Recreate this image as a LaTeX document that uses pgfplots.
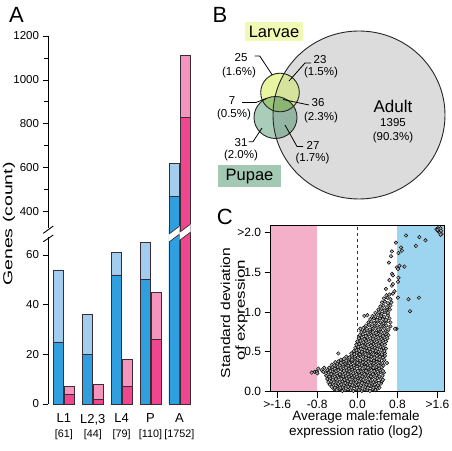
\documentclass[border=0pt]{standalone}
\usepackage{pgfplots}
\pgfplotsset{compat=1.18}
\usepackage{fontspec}
\setmainfont{Liberation Sans}
\definecolor{dblue}{HTML}{2F9FE0}
\definecolor{lblue}{HTML}{A2CDEE}
\definecolor{dpink}{HTML}{F0468E}
\definecolor{lpink}{HTML}{F594BC}
\definecolor{barline}{HTML}{3A2C35}
\definecolor{bandpink}{HTML}{F5B0C9}
\definecolor{bandblue}{HTML}{9DD4EF}
\definecolor{adultg}{HTML}{DCDCDC}
\definecolor{larv}{HTML}{E9F5A0}
\definecolor{larvA}{HTML}{D6E39C}
\definecolor{pup}{HTML}{AACDB9}
\definecolor{pupA}{HTML}{93B5A2}
\definecolor{lp}{HTML}{9CC679}
\definecolor{lpA}{HTML}{8AB572}
\definecolor{larvbox}{HTML}{F0FAB4}
\definecolor{pupbox}{HTML}{A3C9B5}
\newcommand{\fs}[1]{\fontsize{#1}{#1}\selectfont}
\begin{document}
\begin{tikzpicture}[x=1pt,y=1pt]
\useasboundingbox (0,0) rectangle (452,450);
\pgfplotsset{
  barA/.style={ybar, bar width=10pt, bar shift=0pt, draw=barline, line width=0.7pt},
  panelA/.style={scale only axis, anchor=south west, width=146.8pt, xmin=-0.55, xmax=4.53,
    axis lines*=left, axis line style={draw=none}, tick align=outside, ytick pos=left,
    major tick length=5.5pt, minor tick length=4pt, tick style={black, line width=0.8pt},
    yticklabel style={font=\fs{11.5}}, /pgf/number format/assume math mode=true,
    /pgf/number format/1000 sep={}},
}
% ---------------- Panel A (upper part)
\begin{axis}[panelA, at={(48pt,216.4pt)}, height=197.6pt, ymin=300, ymax=1200,
  ytick={400,600,800,1000,1200}, minor ytick={500,700,900,1100}, xtick=\empty]
\addplot[barA, fill=lblue] coordinates {(3.81,620)};
\addplot[barA, fill=dblue] coordinates {(3.81,470)};
\addplot[barA, fill=lpink] coordinates {(4.19,1110)};
\addplot[barA, fill=dpink] coordinates {(4.19,830)};
\end{axis}
% ---------------- Panel A (lower part)
\begin{axis}[panelA, at={(48pt,46pt)}, height=176.3pt, ymin=0, ymax=71,
  ytick={0,20,40,60}, xtick={0,1,2,3,4}, xtick style={draw=none},
  xticklabels={{L1\\{\fs{10.8}[61]}},{L2,3\\{\fs{10.8}[44]}},{L4\\{\fs{10.8}[79]}},{P\\{\fs{10.8}[110]}},{A\\{\fs{10.8}[1752]}}},
  xticklabel style={align=center, font=\fontsize{13}{14.5}\selectfont, yshift=-1pt, inner xsep=0pt}]
\addplot[barA, fill=lblue] coordinates {(-0.19,54) (0.81,36) (1.81,61) (2.81,65) (3.81,620)};
\addplot[barA, fill=dblue] coordinates {(-0.19,25) (0.81,20) (1.81,52) (2.81,50) (3.81,470)};
\addplot[barA, fill=lpink] coordinates {(0.19,7) (1.19,8) (2.19,18) (3.19,45) (4.19,1110)};
\addplot[barA, fill=dpink] coordinates {(0.19,4) (1.19,2) (2.19,7) (3.19,26) (4.19,830)};
\end{axis}
% axis line with break
\draw[black, line width=0.9pt] (48,414) -- (48,222);
\draw[black, line width=0.9pt] (48,213) -- (48,46);
\draw[black, line width=0.9pt] (43.3,216.7) -- (53.3,224);
\draw[black, line width=0.9pt] (43.3,208.3) -- (53.3,215);
% slanted gaps in the A bars
\fill[white] (168.5,215.6) -- (179.5,223.9) -- (179.5,215.9) -- (168.5,207.6) -- cycle;
\draw[barline, line width=0.7pt] (169,216) -- (179,223.5);
\draw[barline, line width=0.7pt] (169,208) -- (179,215.5);
\fill[white] (179.5,217.6) -- (190.5,225.9) -- (190.5,217.9) -- (179.5,209.6) -- cycle;
\draw[barline, line width=0.7pt] (180,218) -- (190,225.5);
\draw[barline, line width=0.7pt] (180,210) -- (190,217.5);
\node[rotate=90, font=\fs{13}] at (9,226) {\scalebox{1.5}[1]{Genes (count)}};
\node[font=\fs{22}] at (16.5,435.5) {A};
% ---------------- Panel C
\begin{axis}[at={(270.7pt,58.3pt)}, anchor=south west, scale only axis, width=173.3pt, height=166pt,
  xmin=-1.73, xmax=1.73, ymin=0, ymax=2.083, axis on top, tick align=outside,
  xtick={-1.6,-0.8,0,0.8,1.6}, xticklabels={{>-1.6},{-0.8},{0.0},{0.8},{>1.6}},
  ytick={0,0.5,1,1.5,2}, yticklabels={0.0,0.5,1.0,1.5,{>2.0}},
  xtick pos=bottom, ytick pos=left, major tick length=6pt,
  tick style={black, line width=0.8pt}, axis line style={black, line width=0.9pt},
  ticklabel style={font=\fs{12}}, xticklabel style={yshift=1pt}]
\addplot[fill=bandpink, draw=none] coordinates {(-1.73,2.083) (-0.8,2.083)} \closedcycle;
\addplot[fill=bandblue, draw=none] coordinates {(0.8,2.083) (1.73,2.083)} \closedcycle;
\addplot[black!80, dashed, line width=0.6pt] coordinates {(0,0) (0,2.083)};
\addplot[only marks, mark=*, mark size=1.8pt, mark options={draw=black, fill=white!70!black, line width=0.45pt}] coordinates {
(-0.46,0.03) (-0.41,0.02) (-0.35,0.03) (-0.30,0.01) (-0.24,0.02) (-0.19,0.03) (-0.13,0.02) (-0.08,0.01) (-0.02,0.03) (0.03,0.02) (0.09,0.01) (0.14,0.03) (0.20,0.02) (0.25,0.01) (0.31,0.03) (0.36,0.02) (0.40,0.04)
(-0.51,0.06) (-0.45,0.05) (-0.40,0.07) (-0.34,0.05) (-0.29,0.06) (-0.23,0.04) (-0.18,0.06) (-0.12,0.05) (-0.07,0.07) (-0.01,0.05) (0.05,0.06) (0.10,0.04) (0.16,0.06) (0.21,0.05) (0.27,0.07) (0.32,0.05) (0.38,0.06) (0.44,0.05)
(-0.55,0.09) (-0.49,0.10) (-0.43,0.08) (-0.38,0.10) (-0.32,0.09) (-0.27,0.08) (-0.21,0.10) (-0.15,0.09) (-0.10,0.08) (-0.04,0.10) (0.02,0.09) (0.07,0.08) (0.13,0.10) (0.18,0.09) (0.24,0.08) (0.30,0.10) (0.35,0.09) (0.41,0.08) (0.47,0.10)
(-0.58,0.12) (-0.52,0.13) (-0.47,0.12) (-0.41,0.14) (-0.35,0.12) (-0.30,0.13) (-0.24,0.11) (-0.19,0.13) (-0.13,0.12) (-0.07,0.14) (-0.02,0.12) (0.04,0.13) (0.09,0.11) (0.15,0.13) (0.21,0.12) (0.26,0.14) (0.32,0.12) (0.37,0.13) (0.43,0.11) (0.49,0.13)
(-0.60,0.16) (-0.54,0.17) (-0.49,0.15) (-0.43,0.16) (-0.38,0.18) (-0.32,0.16) (-0.26,0.15) (-0.21,0.17) (-0.15,0.16) (-0.10,0.18) (-0.04,0.15) (0.01,0.17) (0.07,0.16) (0.12,0.15) (0.18,0.17) (0.24,0.16) (0.29,0.18) (0.35,0.15) (0.40,0.17) (0.46,0.16) (0.51,0.15)
(-0.62,0.20) (-0.56,0.19) (-0.51,0.21) (-0.45,0.19) (-0.40,0.20) (-0.34,0.21) (-0.28,0.19) (-0.23,0.20) (-0.17,0.19) (-0.12,0.21) (-0.06,0.20) (-0.01,0.19) (0.05,0.21) (0.10,0.19) (0.16,0.20) (0.22,0.21) (0.27,0.19) (0.33,0.20) (0.38,0.21) (0.44,0.19) (0.50,0.20)
(-0.63,0.23) (-0.57,0.24) (-0.52,0.22) (-0.46,0.24) (-0.41,0.23) (-0.35,0.22) (-0.30,0.24) (-0.24,0.23) (-0.19,0.22) (-0.13,0.24) (-0.08,0.23) (-0.02,0.22) (0.03,0.24) (0.09,0.23) (0.14,0.22) (0.20,0.24) (0.25,0.23) (0.31,0.22) (0.36,0.24) (0.42,0.23) (0.47,0.25) (0.53,0.24)
(-0.60,0.27) (-0.54,0.26) (-0.49,0.28) (-0.43,0.26) (-0.38,0.27) (-0.32,0.28) (-0.27,0.26) (-0.21,0.27) (-0.16,0.26) (-0.10,0.28) (-0.05,0.27) (0.01,0.26) (0.06,0.28) (0.12,0.27) (0.17,0.26) (0.23,0.28) (0.28,0.27) (0.34,0.26) (0.39,0.28) (0.45,0.27) (0.51,0.26)
(-0.56,0.30) (-0.50,0.31) (-0.45,0.29) (-0.39,0.31) (-0.34,0.30) (-0.28,0.32) (-0.23,0.30) (-0.17,0.29) (-0.12,0.31) (-0.06,0.30) (-0.01,0.32) (0.05,0.30) (0.10,0.29) (0.16,0.31) (0.21,0.30) (0.27,0.32) (0.32,0.30) (0.38,0.31) (0.43,0.29) (0.49,0.31)
(-0.51,0.34) (-0.46,0.33) (-0.40,0.35) (-0.35,0.33) (-0.29,0.34) (-0.24,0.35) (-0.18,0.33) (-0.13,0.34) (-0.07,0.33) (-0.02,0.35) (0.04,0.34) (0.09,0.33) (0.15,0.35) (0.20,0.34) (0.26,0.33) (0.31,0.35) (0.37,0.34) (0.42,0.33) (0.48,0.35) (0.52,0.33)
(-0.44,0.37) (-0.38,0.38) (-0.33,0.36) (-0.27,0.38) (-0.22,0.37) (-0.16,0.36) (-0.11,0.38) (-0.05,0.37) (0.00,0.36) (0.06,0.38) (0.11,0.37) (0.17,0.36) (0.22,0.38) (0.28,0.37) (0.33,0.36) (0.39,0.38) (0.44,0.37) (0.50,0.36) (0.59,0.36)
(-0.33,0.40) (-0.27,0.41) (-0.22,0.39) (-0.16,0.41) (-0.11,0.40) (-0.05,0.42) (0.00,0.40) (0.06,0.39) (0.11,0.41) (0.17,0.40) (0.22,0.42) (0.28,0.40) (0.33,0.39) (0.39,0.41) (0.44,0.40) (0.50,0.42) (0.54,0.40)
(-0.22,0.44) (-0.16,0.43) (-0.11,0.45) (-0.05,0.44) (0.01,0.43) (0.06,0.45) (0.12,0.44) (0.17,0.43) (0.23,0.45) (0.28,0.44) (0.34,0.43) (0.39,0.45) (0.45,0.44) (0.51,0.43) (0.55,0.45)
(-0.12,0.48) (-0.06,0.47) (-0.01,0.49) (0.05,0.47) (0.10,0.48) (0.16,0.47) (0.21,0.49) (0.27,0.48) (0.32,0.47) (0.38,0.49) (0.43,0.48) (0.49,0.47) (0.55,0.48) (-0.38,0.48)
(-0.07,0.51) (-0.02,0.52) (0.04,0.51) (0.09,0.50) (0.15,0.52) (0.20,0.51) (0.26,0.50) (0.31,0.52) (0.37,0.51) (0.42,0.50) (0.48,0.52) (0.54,0.51)
(-0.04,0.55) (0.02,0.56) (0.07,0.54) (0.13,0.56) (0.18,0.55) (0.24,0.54) (0.29,0.56) (0.35,0.55) (0.40,0.54) (0.46,0.56) (0.52,0.55) (0.57,0.54)
(-0.02,0.59) (0.04,0.60) (0.10,0.58) (0.16,0.60) (0.21,0.59) (0.27,0.58) (0.32,0.60) (0.38,0.59) (0.43,0.58) (0.49,0.60) (0.55,0.59)
(0.00,0.63) (0.06,0.64) (0.12,0.62) (0.17,0.64) (0.23,0.63) (0.28,0.62) (0.34,0.64) (0.39,0.63) (0.45,0.62) (0.51,0.64) (0.57,0.63)
(0.03,0.67) (0.09,0.68) (0.14,0.66) (0.20,0.68) (0.26,0.67) (0.31,0.66) (0.37,0.68) (0.42,0.67) (0.48,0.66) (0.54,0.68) (0.60,0.67)
(0.05,0.71) (0.11,0.72) (0.17,0.70) (0.22,0.72) (0.28,0.71) (0.34,0.70) (0.39,0.72) (0.45,0.71) (0.51,0.70) (0.57,0.72) (0.62,0.71)
(0.08,0.75) (0.14,0.76) (0.20,0.74) (0.26,0.76) (0.31,0.75) (0.37,0.74) (0.43,0.76) (0.48,0.75) (0.54,0.74) (0.60,0.76)
(0.06,0.79) (0.12,0.80) (0.19,0.79) (0.25,0.78) (0.31,0.80) (0.36,0.79) (0.42,0.78) (0.48,0.80) (0.54,0.79) (0.62,0.78) (0.78,0.79)
(0.17,0.83) (0.23,0.84) (0.29,0.82) (0.35,0.84) (0.40,0.83) (0.46,0.82) (0.52,0.84) (0.58,0.83) (0.66,0.82)
(0.22,0.87) (0.28,0.88) (0.34,0.86) (0.40,0.88) (0.46,0.87) (0.52,0.86) (0.58,0.88) (0.66,0.87)
(0.26,0.91) (0.33,0.92) (0.39,0.90) (0.45,0.92) (0.51,0.91) (0.57,0.90) (0.64,0.92)
(0.14,0.95) (0.20,0.96) (0.30,0.95) (0.36,0.94) (0.42,0.96) (0.48,0.95) (0.54,0.94) (0.61,0.96)
(0.36,0.99) (0.43,1.00) (0.49,0.98) (0.55,1.00) (0.61,0.99)
(0.42,1.03) (0.48,1.04) (0.54,1.02) (0.60,1.04) (0.65,1.03)
(0.46,1.07) (0.52,1.08) (0.59,1.06) (0.66,1.08)
(0.49,1.12) (0.55,1.13) (0.61,1.11) (0.68,1.12)
(0.53,1.17) (0.60,1.18) (0.66,1.16)
(0.58,1.21) (0.64,1.22) (0.71,1.23)
(0.81,1.18) (1.02,1.16) (1.23,1.18) (1.05,1.01) (0.75,0.79)
(0.57,1.29) (0.74,1.26) (0.69,1.33) (0.71,1.35) (0.64,1.40) (0.82,1.43) (0.81,1.38) (0.69,1.48) (0.71,1.46) (0.79,1.56) (0.84,1.58) (0.94,1.57) (0.81,1.54) (0.63,1.62) (0.67,1.70) (0.69,1.76) (0.82,1.74) (0.87,1.81) (0.89,1.77) (0.77,1.87) (0.97,1.96) (1.24,1.94) (1.36,1.90) (1.17,1.83)
(1.58,2.04) (1.61,2.05) (1.64,2.03) (1.66,2.05) (1.62,2.01) (1.65,2.00) (1.67,2.02) (1.68,1.98) (1.60,2.03) (1.66,1.97)
(-0.91,0.24) (-0.85,0.25) (-0.81,0.25) (-0.78,0.29) (-0.71,0.27) (-0.66,0.30) (-0.68,0.25) (-0.80,0.23)
};
\end{axis}
\node[rotate=90, font=\fs{13}] at (225.5,137) {\scalebox{1.2}[1]{Standard deviation}};
\node[rotate=90, font=\fs{13}] at (241.5,140) {\scalebox{1.3}[1]{of expression}};
\node[font=\fs{13.5}] at (356,32.5) {Average male:female};
\node[font=\fs{13.5}] at (356,17.5) {expression ratio (log2)};
\node[font=\fs{22}] at (224.7,233.5) {C};
% ---------------- Panel B (Venn)
\node[font=\fs{22}] at (220,435) {B};
\fill[adultg] (359,335) ellipse [x radius=86, y radius=84];
\fill[larv] (280,357.5) circle [radius=19.3];
\fill[pup] (275.5,332.5) ellipse [x radius=21.5, y radius=21];
\begin{scope}
  \clip (280,357.5) circle [radius=19.3];
  \fill[lp] (275.5,332.5) ellipse [x radius=21.5, y radius=21];
\end{scope}
\begin{scope}
  \clip (359,335) ellipse [x radius=86, y radius=84];
  \fill[larvA] (280,357.5) circle [radius=19.3];
  \fill[pupA] (275.5,332.5) ellipse [x radius=21.5, y radius=21];
  \clip (280,357.5) circle [radius=19.3];
  \fill[lpA] (275.5,332.5) ellipse [x radius=21.5, y radius=21];
\end{scope}
\draw[black!85, line width=0.9pt] (359,335) ellipse [x radius=86, y radius=84];
\draw[black!85, line width=0.9pt] (280,357.5) circle [radius=19.3];
\draw[black!85, line width=0.9pt] (275.5,332.5) ellipse [x radius=21.5, y radius=21];
\fill[larvbox] (245,409.3) rectangle (303.3,428.3);
\node[font=\fs{16.5}] at (274,418.5) {Larvae};
\fill[pupbox] (218.3,263.3) rectangle (281,285);
\node[font=\fs{16.5}] at (249.5,273.5) {Pupae};
\begin{scope}[font=\fs{11.5}]
\node at (241,392) {25}; \node at (239,377) {(1.6\%)};
\node at (232,349) {7}; \node at (234,335) {(0.5\%)};
\node at (241,307.5) {31}; \node at (241,294) {(2.0\%)};
\node at (320,390) {23}; \node at (321,377) {(1.5\%)};
\node at (318,347) {36}; \node at (321,332) {(2.3\%)};
\node at (313,305) {27}; \node at (312.5,291) {(1.7\%)};
\node at (393,327) {1395}; \node at (393,312) {(90.3\%)};
\end{scope}
\node[font=\fs{17}] at (393,344) {Adult};
\begin{scope}[black, line width=0.8pt]
\draw (254.7,394) -- (259.7,394) -- (272.3,375);
\draw (311,387) -- (305,387) -- (289,369);
\draw (242,347.5) -- (256,347.5) -- (266,351.5);
\draw (309,345) -- (283,350.5);
\draw (248.5,308.3) -- (253,308.3) -- (262,322);
\draw (303,303.5) -- (297,303.5) -- (285,325);
\end{scope}
\end{tikzpicture}
\end{document}
